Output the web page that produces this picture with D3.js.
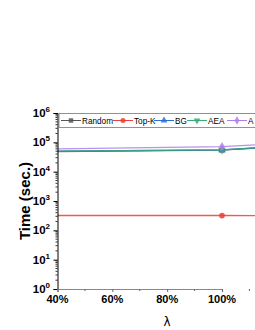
<!DOCTYPE html>
<html><head><meta charset="utf-8">
<script src="https://cdn.jsdelivr.net/npm/d3@7"></script>
<style>html,body{margin:0;padding:0;background:#fff;overflow:hidden}svg{display:block}</style>
</head><body>
<script>
const seriesNames = ["Random", "Top-K", "BG", "AEA", "A"];
const seriesColors = ["#555555", "#e8403a", "#2a6fdb", "#3aaa78", "#b07ee8"];
const seriesShapes = ["square", "circle", "triangle", "triangleDown", "diamond"];
const lambdaValues = [0.2, 1.0, 1.2];
const randomValues = [46000, 54000, 70000];
const topKValues = [320, 320, 318];
const bgValues = [48000, 55000, 71000];
const aeaValues = [49000, 55000, 72000];
const aValues = [57000, 71000, 89000];
const allValues = [randomValues, topKValues, bgValues, aeaValues, aValues];
const xTicks = [0.4, 0.6, 0.8, 1.0];
const xTickLabels = ["40%", "60%", "80%", "100%"];
const yTicks = [1, 10, 100, 1000, 10000, 100000, 1000000];
const yTickExp = ["0", "1", "2", "3", "4", "5", "6"];

(function () {
const W = 255, H = 330;
const mLeft = 57.5, mTop = 113, mBottom = 289, mRight = 300;
const svg = d3.select("body").append("svg").attr("width", W).attr("height", H);
const x = d3.scaleLinear().domain([0.4, 1.0]).range([mLeft, 222]);
const y = d3.scaleLog().domain([1, 1e6]).range([mBottom, mTop]);
const font = "'Liberation Sans', Arial, sans-serif";

svg.append("defs").append("clipPath").attr("id", "clip")
  .append("rect").attr("x", mLeft).attr("y", mTop).attr("width", mRight - mLeft).attr("height", mBottom - mTop);

const g = svg.append("g").attr("clip-path", "url(#clip)");
const line = d3.line().x((d, i) => x(lambdaValues[i])).y(d => y(d));
const order = [0, 2, 3, 4, 1];
order.forEach(si => {
  g.append("path").datum(allValues[si]).attr("d", line)
    .attr("fill", "none").attr("stroke", seriesColors[si]).attr("stroke-width", 1.3).attr("stroke-opacity", 0.85);
});
const symMap = {square: d3.symbolSquare, circle: d3.symbolCircle, triangle: d3.symbolTriangle, triangleDown: d3.symbolTriangle, diamond: d3.symbolDiamond};
function marker(sel, si, cx, cy, size) {
  sel.append("path").attr("d", d3.symbol().type(symMap[seriesShapes[si]]).size(size)())
    .attr("transform", `translate(${cx},${cy})` + (seriesShapes[si] === "triangleDown" ? " rotate(180)" : ""))
    .attr("fill", seriesColors[si]).attr("fill-opacity", 0.85);
}
order.forEach(si => {
  allValues[si].forEach((v, i) => marker(g, si, x(lambdaValues[i]), y(v), 26));
});

const yAxis = d3.axisLeft(y).tickValues(yTicks).tickSize(4).tickFormat("");
const ya = svg.append("g").attr("transform", `translate(${mLeft},0)`).call(yAxis);
ya.select(".domain").attr("stroke", "#000").attr("stroke-width", 1);
const minor = [];
for (let k = 0; k < 6; k++) for (let m = 2; m <= 9; m++) minor.push(m * Math.pow(10, k));
ya.selectAll(".minor").data(minor).enter().append("line").attr("class", "minor")
  .attr("x1", 0).attr("x2", -2).attr("y1", d => y(d)).attr("y2", d => y(d)).attr("stroke", "#000").attr("stroke-width", 0.8);
yTicks.forEach((t, i) => {
  const tx = svg.append("text").attr("x", 50).attr("y", y(t) + 4).attr("text-anchor", "end")
    .attr("font-family", font).attr("font-weight", "bold").attr("font-size", 11.5);
  tx.append("tspan").text("10");
  tx.append("tspan").attr("font-size", 8).attr("dy", -5).text(yTickExp[i]);
});

const xAxis = d3.axisBottom(x).tickValues(xTicks.concat([1.2])).tickSize(3).tickFormat("");
const xa = svg.append("g").attr("transform", `translate(0,${mBottom})`).call(xAxis);
xa.select(".domain").attr("stroke", "#888").attr("stroke-width", 1.2);
xa.selectAll(".tick line").attr("stroke", "#666");
xa.selectAll(".minorx").data([0.5, 0.7, 0.9, 1.1]).enter().append("line")
  .attr("x1", d => x(d)).attr("x2", d => x(d)).attr("y1", 0).attr("y2", 2).attr("stroke", "#666");
xTicks.forEach((t, i) => {
  svg.append("text").attr("x", x(t)).attr("y", 303).attr("text-anchor", "middle")
    .attr("font-family", font).attr("font-weight", "bold").attr("font-size", 11).text(xTickLabels[i]);
});

svg.append("text").attr("transform", "translate(30,201) rotate(-90)").attr("text-anchor", "middle")
  .attr("font-family", font).attr("font-weight", "bold").attr("font-size", 15).text("Time (sec.)");
svg.append("text").attr("x", 167).attr("y", 326).attr("text-anchor", "middle")
  .attr("font-family", "'DejaVu Sans', sans-serif").attr("font-size", 12).text("λ");

const lg = svg.append("g");
lg.append("rect").attr("x", 59).attr("y", 113.5).attr("width", 260).attr("height", 14)
  .attr("fill", "#fff").attr("stroke", "#777").attr("stroke-width", 0.8);
const legendX = [61, 113, 154, 187, 227];
const ly = 120.5;
seriesNames.forEach((n, i) => {
  const lx = legendX[i];
  lg.append("line").attr("x1", lx).attr("x2", lx + 20).attr("y1", ly).attr("y2", ly)
    .attr("stroke", seriesColors[i]).attr("stroke-width", 1);
  marker(lg, i, lx + 10, ly, 20);
  lg.append("text").attr("x", lx + 21).attr("y", ly + 3).attr("font-family", font)
    .attr("font-size", 8.2).attr("fill", "#000").text(n);
});
})();
</script>
</body></html>
